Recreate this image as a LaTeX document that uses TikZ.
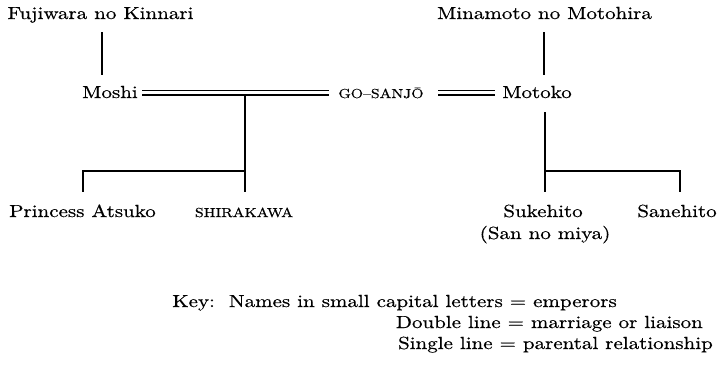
\documentclass[tikz,border=0pt]{standalone}
\usepackage{fontspec}
\newfontfamily\lmr{lmroman10-regular.otf}[FakeStretch=1.2, FakeBold=0.5]
\begin{document}
\begin{tikzpicture}[x=1bp,y=-1bp,
  person/.style={inner sep=0pt, anchor=base, font=\lmr\fontsize{17.5bp}{21bp}\selectfont},
  emperor/.style={inner sep=0pt, anchor=base, font=\lmr\fontsize{13.1bp}{15bp}\selectfont},
  keytext/.style={person, anchor=base east},
  single/.style={line width=1.4bp},
  marriage/.style={line width=1.1bp}]
\useasboundingbox (0,0) rectangle (722,366);

% names
\node[person] (kin) at (100.5,19) {Fujiwara no Kinnari};
\node[person] (moto) at (544.5,19) {Minamoto no Motohira};
\node[person] (moshi) at (110,98) {Moshi};
\node[emperor] (gosanjo) at (381,98) {GO–SANJŌ};
\node[person] (motoko) at (537,98) {Motoko};
\node[person] (atsuko) at (82.5,217) {Princess Atsuko};
\node[emperor] (shira) at (244,217) {SHIRAKAWA};
\node[person] (suke) at (543,217) {Sukehito};
\node[person] (sanmiya) at (545,239) {(San no miya)};
\node[person] (sane) at (677,217) {Sanehito};

% key
\node[keytext] (key1) at (617,307) {Key:~~Names in small capital letters = emperors};
\node[keytext] (key2) at (703,328) {Double line = marriage or liaison};
\node[keytext] (key3) at (713,349) {Single line = parental relationship};

% connector points
\coordinate (kinA) at (102,32);
\coordinate (kinB) at (102,75);
\coordinate (motA) at (544,32);
\coordinate (motB) at (544,75);
\coordinate (mL1) at (142,90.5);
\coordinate (mR1) at (329,90.5);
\coordinate (mL1b) at (142,95);
\coordinate (mR1b) at (329,95);
\coordinate (mL2) at (438,90.5);
\coordinate (mR2) at (495,90.5);
\coordinate (mL2b) at (438,95);
\coordinate (mR2b) at (495,95);
\coordinate (jL) at (245,95);
\coordinate (barL) at (245,171);
\coordinate (atsA) at (83,171);
\coordinate (atsB) at (83,192);
\coordinate (shiB) at (245,192);
\coordinate (jR) at (545,112);
\coordinate (barR) at (545,171);
\coordinate (sukB) at (545,192);
\coordinate (sanA) at (680,171);
\coordinate (sanB) at (680,192);

% parental lines
\draw[single] (kinA) -- (kinB);
\draw[single] (motA) -- (motB);
\draw[single] (jL) -- (barL) -- (shiB);
\draw[single] (barL) -- (atsA) -- (atsB);
\draw[single] (jR) -- (barR) -- (sukB);
\draw[single] (barR) -- (sanA) -- (sanB);

% marriages (double lines)
\draw[marriage] (mL1) -- (mR1);
\draw[marriage] (mL1b) -- (mR1b);
\draw[marriage] (mL2) -- (mR2);
\draw[marriage] (mL2b) -- (mR2b);
\end{tikzpicture}
\end{document}
